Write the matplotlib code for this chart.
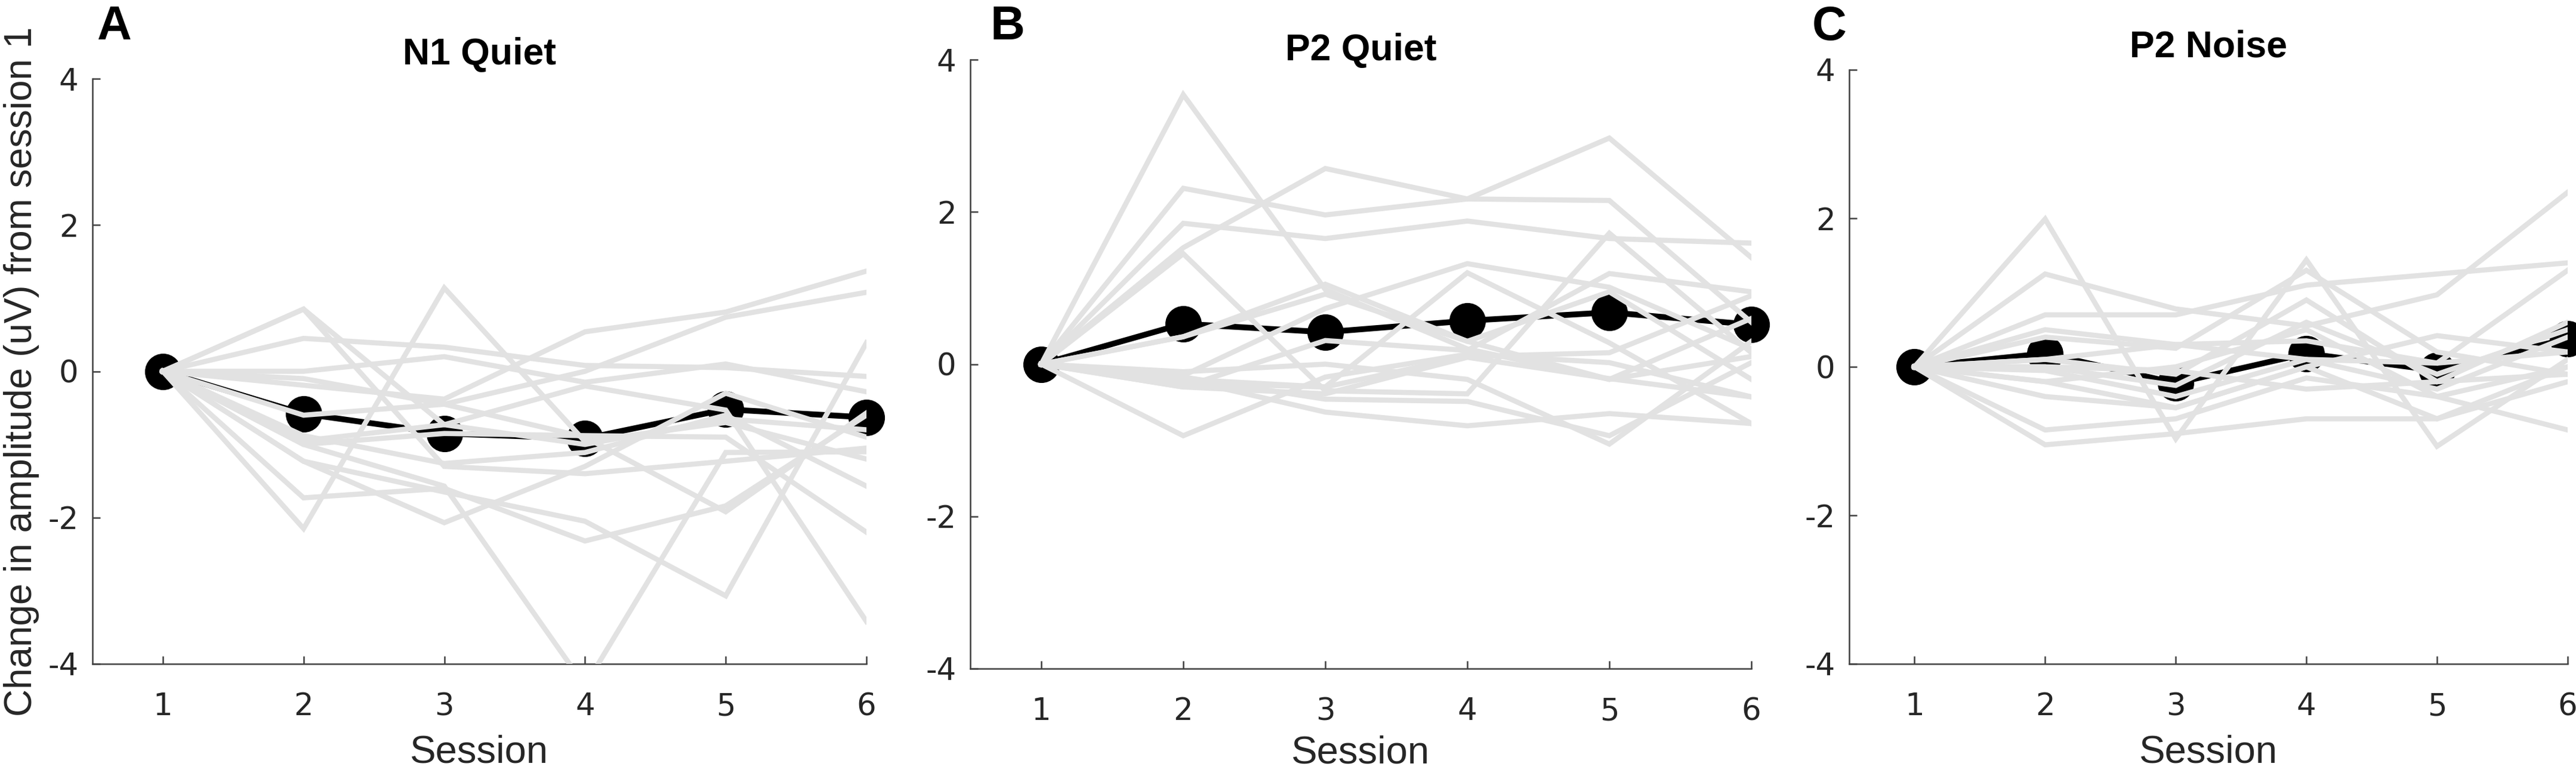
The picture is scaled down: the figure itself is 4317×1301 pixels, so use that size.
import numpy as np
import matplotlib.pyplot as plt

plt.rcParams["axes.unicode_minus"] = False

sessions = [1, 2, 3, 4, 5, 6]
panel_letters = ["A", "B", "C"]
panel_titles = ["N1 Quiet", "P2 Quiet", "P2 Noise"]
y_ticks = [-4, -2, 0, 2, 4]
y_tick_labels = ["-4", "-2", "0", "2", "4"]

# individual subjects, change from session 1 (uV)
n1_quiet = [
    [0, 0.85, -0.73, -1.0, -0.65, -0.8],
    [0, 0.85, -1.3, -1.4, -1.23, -1.05],
    [0, 0.45, 0.33, 0.08, 0.05, -0.07],
    [0, 0.0, 0.2, -0.15, 0.1, -0.28],
    [0, -0.19, -0.38, 0.54, 0.81, 1.37],
    [0, -0.1, -0.45, 0.0, 0.74, 1.08],
    [0, -2.15, 1.14, -0.96, -0.7, -1.2],
    [0, -1.0, -1.57, -4.3, -1.11, -1.1],
    [0, -1.23, -1.65, -2.05, -3.07, 0.39],
    [0, -0.95, -0.73, -0.2, -0.53, -3.42],
    [0, -1.73, -1.6, -2.32, -1.84, -0.6],
    [0, -0.6, -0.45, -0.9, -1.92, -0.57],
    [0, -0.88, -1.26, -1.11, -0.6, -1.57],
    [0, -1.0, -0.85, -0.88, -0.9, -2.2],
    [0, -1.23, -2.07, -1.3, -0.3, -0.9],
]
p2_quiet = [
    [0, 3.54, 0.98, 0.2, -0.2, 0.1],
    [0, 2.31, 1.96, 2.17, 2.97, 1.4],
    [0, 1.53, 2.57, 2.17, 2.15, 0.55],
    [0, 1.85, 1.65, 1.88, 1.65, 1.59],
    [0, 1.45, -0.35, -0.39, 1.72, 0.15],
    [0, 0.36, 1.05, 0.3, -0.2, 0.6],
    [0, -0.15, 0.73, 1.32, 1.01, 0.2],
    [0, -0.2, -0.3, 1.2, 0.28, -0.78],
    [0, -0.3, 0.31, 0.18, 1.19, 0.95],
    [0, -0.94, -0.17, 0.13, 0.02, -0.43],
    [0, -0.17, -0.46, -0.49, -0.94, 0.02],
    [0, -0.2, -0.63, -0.81, -0.65, -0.78],
    [0, -0.3, -0.39, 0.09, -0.19, -0.43],
    [0, -0.1, 0.0, -0.2, -1.05, 0.3],
    [0, -0.25, -0.3, 0.1, 0.15, 0.9],
    [0, 0.36, 0.92, 0.3, 0.95, -0.2],
]
p2_noise = [
    [0, 1.99, -0.97, 1.44, -1.07, 0.1],
    [0, 1.25, 0.78, 0.55, 0.97, 2.35],
    [0, 0.7, 0.7, 1.1, 1.25, 1.4],
    [0, 0.5, 0.3, 0.35, 0.05, 1.3],
    [0, 0.4, 0.25, 1.3, 0.2, -0.1],
    [0, 0.1, -0.1, 0.9, -0.2, 0.6],
    [0, 0.0, -0.25, 0.6, -0.1, 0.5],
    [0, -0.05, -0.4, 0.1, -0.3, 0.4],
    [0, -0.2, 0.0, 0.5, -0.4, -0.85],
    [0, -0.4, -0.55, 0.0, 0.42, 0.2],
    [0, -0.85, -0.7, -0.15, -0.4, 0.0],
    [0, -1.05, -0.9, -0.7, -0.7, -0.2],
    [0, 0.0, -0.05, -0.3, -0.2, -0.1],
    [0, -0.2, -0.55, 0.0, -0.7, 0.0],
    [0, 0.1, 0.3, 0.1, 0.05, 0.2],
]

# group means
n1_quiet_mean = [0, -0.58, -0.85, -0.92, -0.52, -0.63]
p2_quiet_mean = [0, 0.53, 0.42, 0.57, 0.68, 0.52]
p2_noise_mean = [0, 0.18, -0.22, 0.18, -0.05, 0.38]

subjects = [n1_quiet, p2_quiet, p2_noise]
means = [n1_quiet_mean, p2_quiet_mean, p2_noise_mean]

W, H = 4317, 1301
fig = plt.figure(figsize=(W / 100, H / 100), dpi=100)

# axes boxes in pixels: left, right, top, bottom
boxes = [(155, 1452, 132, 1113), (1626, 2935, 100, 1121), (3099, 4303, 117, 1113)]
title_baselines = [108, 101, 95]
letter_pos = [(163, 66), (1660, 66), (3037, 67)]
xlabel_pads = [15, 10, 15]

gray = "#e2e2e2"
axis_col = "#404040"

for i in range(3):
    l, r, t, b = boxes[i]
    ax = fig.add_axes([l / W, 1 - b / H, (r - l) / W, (b - t) / H])

    ax.plot(sessions, means[i], color="black", lw=7, marker="o", markersize=43,
            zorder=2, clip_on=False)
    for subj in subjects[i]:
        ax.plot(sessions, subj, color=gray, lw=6.2, zorder=3, solid_joinstyle="miter")

    ax.set_xlim(0.5, 6)
    ax.set_ylim(-4, 4)
    ax.set_xticks(sessions)
    ax.set_yticks(y_ticks)
    ax.set_yticklabels(y_tick_labels)
    for side in ["top", "right"]:
        ax.spines[side].set_visible(False)
    for side in ["left", "bottom"]:
        ax.spines[side].set_color(axis_col)
        ax.spines[side].set_linewidth(1.8)
    ax.tick_params(direction="in", length=9.5, width=1.8, color=axis_col,
                   labelsize=37, labelcolor="#262626")
    ax.tick_params(axis="y", pad=17)
    ax.tick_params(axis="x", pad=34)
    for lab in ax.get_xticklabels() + ax.get_yticklabels():
        lab.set_family("DejaVu Sans")

    ax.set_xlabel("Session", fontsize=47, family="Liberation Sans",
                  color="#262626", labelpad=xlabel_pads[i])

    fig.text((l + r) / 2 / W, 1 - title_baselines[i] / H, panel_titles[i],
             fontsize=45, fontweight="bold", family="Liberation Sans",
             ha="center", va="baseline")
    lx, ly = letter_pos[i]
    fig.text(lx / W, 1 - ly / H, panel_letters[i], fontsize=57.6,
             fontweight="bold", family="Liberation Sans", ha="left", va="baseline")

    if i == 0:
        ax.set_ylabel("Change in amplitude (uV) from session 1", fontsize=46,
                      family="Liberation Sans", color="#262626")
        ax.yaxis.set_label_coords(-0.069, 0.5)

fig.savefig("out.png", dpi=100)
